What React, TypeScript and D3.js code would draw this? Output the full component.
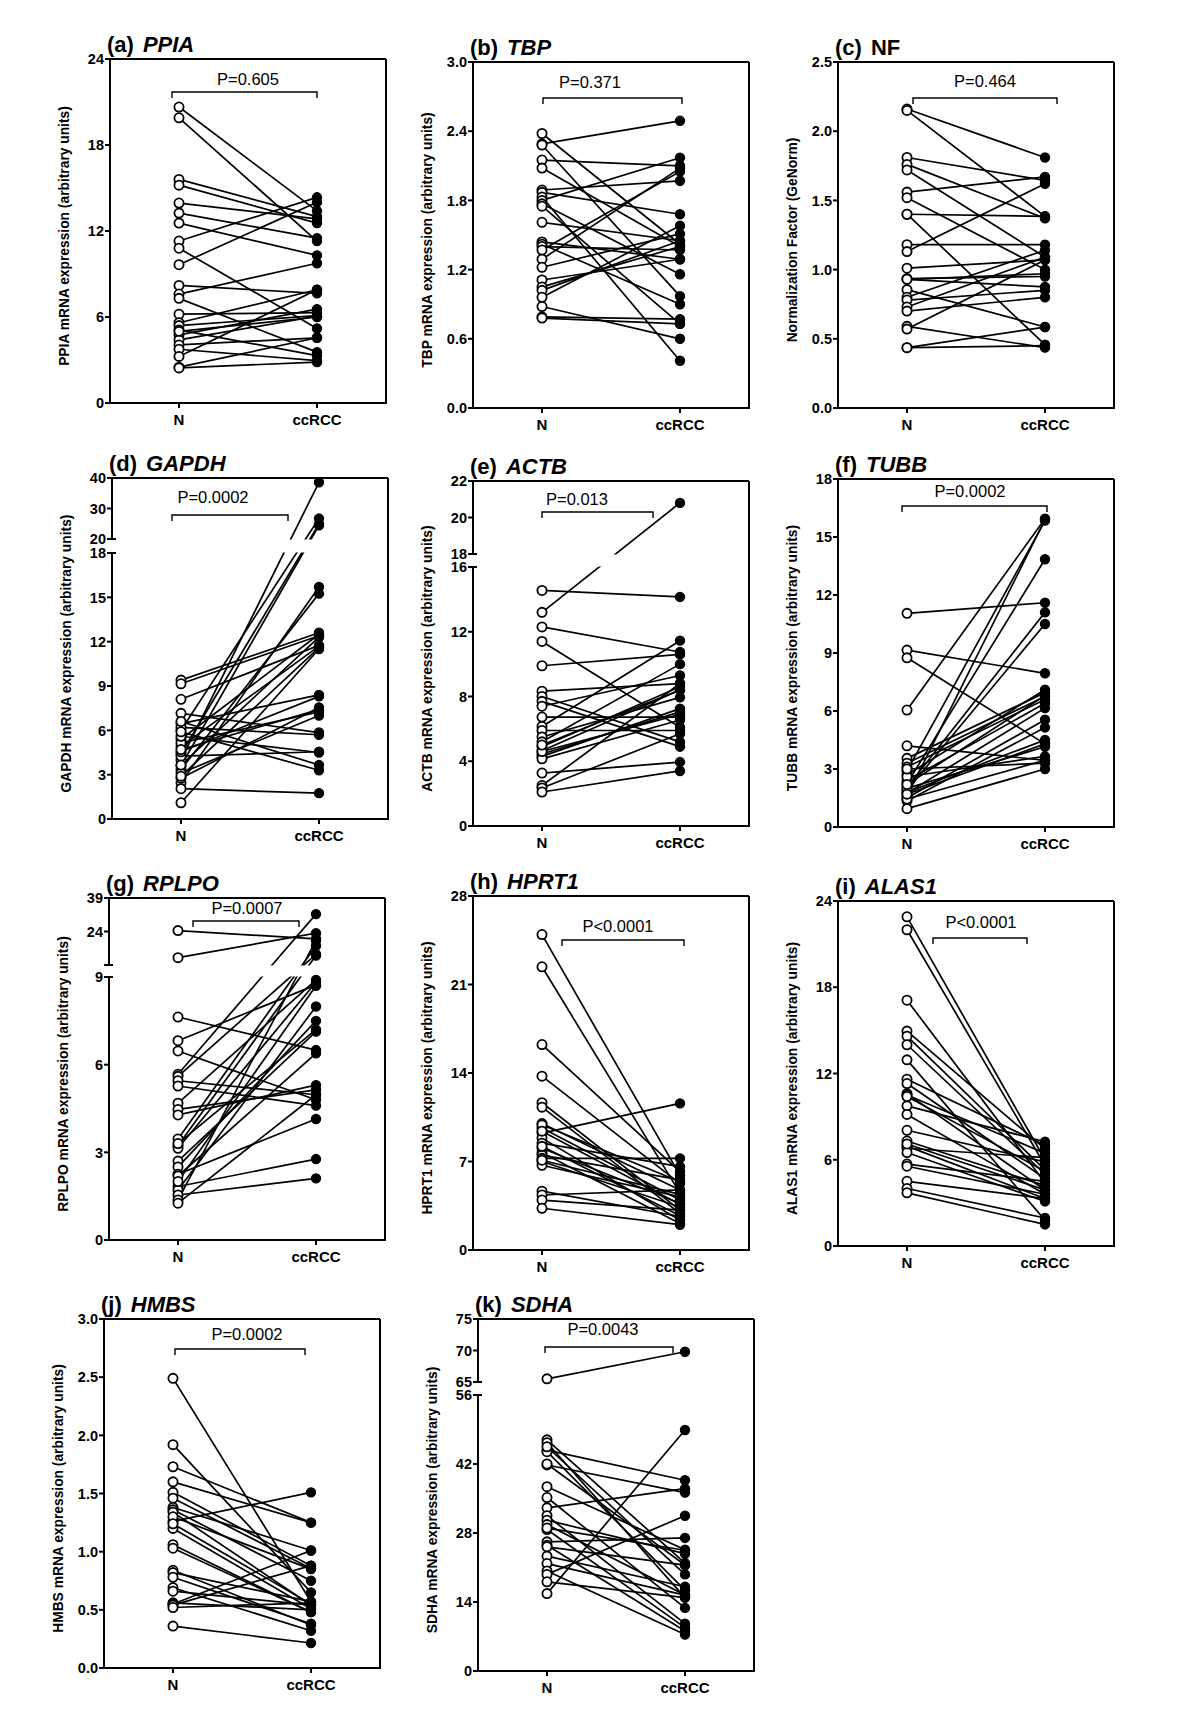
import React from 'react';
import * as d3 from 'd3';

const groups = ['N', 'ccRCC'];

// (a) PPIA
const ppiaN = [20.65, 19.9, 15.6, 15.2, 13.95, 13.25, 12.55, 11.3, 10.8, 9.65, 8.2, 7.6, 7.3, 6.2, 5.6, 5.4, 5.1, 4.75, 4.4, 4.05, 3.75, 3.25, 2.5, 2.45, 5.0];
const ppiaT = [13.4, 11.3, 13.0, 12.55, 12.85, 11.5, 10.3, 14.35, 5.2, 14.0, 7.65, 9.75, 3.55, 6.3, 7.9, 6.1, 3.3, 6.55, 6.05, 4.55, 2.95, 7.9, 4.55, 2.85, 6.0];
const ppiaTicks = [0, 6, 12, 18, 24];

// (b) TBP
const tbpN = [2.38, 2.29, 2.28, 2.15, 2.08, 1.89, 1.87, 1.83, 1.8, 1.77, 1.75, 1.61, 1.44, 1.42, 1.4, 1.37, 1.29, 1.22, 1.11, 1.05, 1.02, 0.96, 0.88, 0.79, 0.78];
const tbpT = [1.42, 2.49, 0.97, 2.1, 1.4, 1.97, 1.68, 0.41, 2.17, 1.16, 0.73, 1.45, 1.29, 0.9, 1.37, 2.05, 2.08, 1.51, 1.29, 1.4, 1.45, 1.58, 0.6, 0.77, 0.73];
const tbpTicks = [0, 0.6, 1.2, 1.8, 2.4, 3.0];

// (c) NF
const nfN = [2.16, 2.15, 1.81, 1.76, 1.72, 1.56, 1.52, 1.4, 1.4, 1.18, 1.13, 1.01, 0.935, 0.93, 0.855, 0.8, 0.78, 0.73, 0.7, 0.59, 0.57, 0.436, 0.436, 0.93];
const nfT = [1.81, 1.385, 1.645, 1.37, 1.09, 1.67, 1.0, 1.385, 0.458, 1.18, 1.62, 1.07, 0.95, 0.875, 0.585, 1.14, 0.85, 1.09, 0.8, 0.436, 1.07, 0.585, 0.45, 0.97];
const nfTicks = [0, 0.5, 1.0, 1.5, 2.0, 2.5];

// (d) GAPDH
const gapdhN = [4.0, 6.0, 4.4, 3.6, 2.45, 3.35, 9.4, 9.15, 8.1, 1.1, 5.4, 4.9, 6.45, 2.75, 5.15, 3.1, 7.15, 6.2, 4.25, 5.6, 6.6, 5.9, 2.05, 4.55, 3.65, 2.9, 4.7];
const gapdhT = [38.6, 26.7, 24.9, 24.5, 15.7, 15.25, 12.6, 12.4, 11.75, 11.5, 12.5, 11.7, 8.4, 7.55, 7.25, 7.0, 5.85, 5.7, 4.55, 4.5, 3.65, 3.3, 1.75, 8.3, 12.3, 11.6, 7.4];
const gapdhLowTicks = [0, 3, 6, 9, 12, 15, 18];
const gapdhUpTicks = [20, 30, 40];

// (e) ACTB
const actbN = [14.55, 13.2, 12.3, 11.4, 9.9, 8.33, 8.0, 7.7, 7.4, 6.73, 6.15, 5.9, 5.5, 5.2, 4.9, 4.65, 4.45, 4.3, 4.15, 3.27, 2.5, 2.35, 2.1, 4.6, 5.0];
const actbT = [14.15, 20.8, 10.75, 6.1, 10.6, 8.8, 5.2, 4.9, 9.3, 6.73, 11.45, 5.9, 7.95, 10.0, 8.6, 8.4, 7.05, 7.25, 6.55, 3.95, 8.8, 5.7, 3.4, 6.9, 8.4];
const actbLowTicks = [0, 4, 8, 12, 16];
const actbUpTicks = [18, 20, 22];

// (f) TUBB
const tubbN = [11.05, 9.15, 8.75, 6.05, 4.2, 3.55, 3.3, 3.1, 2.9, 2.7, 2.4, 2.25, 2.05, 1.9, 1.75, 1.5, 1.35, 0.95, 1.6, 1.8, 2.0, 2.6, 3.0, 1.45, 2.2, 1.7];
const tubbT = [11.6, 7.95, 4.3, 15.95, 3.45, 6.95, 6.75, 6.6, 15.85, 7.1, 6.4, 13.85, 11.1, 10.5, 6.15, 5.55, 5.15, 3.0, 15.9, 4.5, 4.15, 3.65, 3.3, 3.45, 6.8, 4.3];
const tubbTicks = [0, 3, 6, 9, 12, 15, 18];

// (g) RPLPO
const rplpoN = [24.4, 12.3, 7.63, 6.82, 6.47, 5.67, 5.6, 5.45, 5.27, 4.68, 4.47, 4.28, 3.46, 3.23, 3.14, 2.7, 2.5, 2.25, 2.19, 1.83, 1.71, 1.54, 1.37, 1.26, 2.0, 3.3];
const rplpoT = [20.7, 23.25, 6.5, 8.73, 4.8, 31.8, 13.8, 4.97, 4.6, 8.9, 5.14, 5.3, 17.6, 13.2, 8.82, 7.13, 7.5, 4.14, 6.39, 2.77, 7.99, 2.11, 20.0, 4.97, 8.7, 7.2];
const rplpoLowTicks = [0, 3, 6, 9];
const rplpoUpTicks = [9, 24, 39];
const rplpoUpLabels = ['', '24', '39'];

// (h) HPRT1
const hprtN = [24.95, 22.4, 16.25, 13.75, 11.65, 11.3, 10.0, 9.65, 9.25, 8.85, 8.45, 8.05, 7.7, 7.5, 7.25, 7.0, 6.7, 4.65, 4.35, 3.95, 3.3, 9.9, 8.2, 7.1, 9.4];
const hprtT = [5.9, 4.5, 6.2, 5.25, 3.15, 2.9, 4.75, 3.95, 11.6, 2.35, 6.6, 3.7, 2.1, 5.55, 7.25, 3.4, 4.2, 2.65, 4.75, 3.15, 2.0, 5.4, 2.7, 4.4, 3.6];
const hprtTicks = [0, 7, 14, 21, 28];

// (i) ALAS1
const alasN = [22.9, 22.0, 17.1, 14.95, 14.6, 14.0, 12.95, 11.6, 11.3, 10.6, 10.5, 9.75, 9.15, 8.05, 7.3, 6.95, 6.8, 6.5, 5.7, 5.55, 4.5, 4.0, 3.7, 10.4, 7.1];
const alasT = [6.0, 5.6, 4.4, 6.75, 5.3, 5.0, 1.8, 7.0, 4.7, 3.9, 6.45, 7.25, 3.6, 5.85, 4.2, 3.3, 6.15, 3.1, 4.5, 3.6, 3.3, 1.95, 1.5, 5.2, 3.9];
const alasTicks = [0, 6, 12, 18, 24];

// (j) HMBS
const hmbsN = [2.49, 1.92, 1.73, 1.6, 1.51, 1.46, 1.38, 1.36, 1.34, 1.26, 1.2, 1.06, 1.03, 0.84, 0.82, 0.78, 0.69, 0.66, 0.56, 0.55, 0.54, 0.52, 0.36, 1.3, 1.24];
const hmbsT = [0.57, 0.65, 1.25, 1.25, 0.88, 0.855, 1.01, 0.75, 0.54, 1.51, 0.51, 0.48, 0.48, 0.37, 0.57, 0.38, 0.32, 0.54, 0.5, 1.01, 0.88, 0.56, 0.215, 0.85, 0.55];
const hmbsTicks = [0, 0.5, 1.0, 1.5, 2.0, 2.5, 3.0];

// (k) SDHA
const sdhaN = [65.5, 46.9, 46.3, 44.8, 44.5, 41.8, 37.4, 35.2, 33.1, 31.5, 30.6, 29.7, 28.7, 26.2, 25.5, 25.2, 23.3, 21.8, 20.3, 19.6, 18.1, 15.7, 45.5, 42.0, 29.0];
const sdhaT = [69.8, 21.9, 14.9, 38.7, 16.4, 36.2, 24.6, 12.8, 37.0, 9.6, 23.8, 15.4, 8.8, 27.0, 8.1, 21.5, 17.1, 15.4, 7.4, 31.5, 14.9, 48.9, 19.6, 21.5, 24.5];
const sdhaLowTicks = [0, 14, 28, 42, 56];
const sdhaUpTicks = [65, 70, 75];

const FONT = "'Liberation Sans', Arial, Helvetica, sans-serif";
const W = 276;

type PanelDef = {
  letter: string; gene: string; italic: boolean; yLabel: string; pText: string;
  normal: number[]; tumor: number[];
  lower: [number, number]; lowTicks: number[];
  upper?: [number, number]; upTicks?: number[]; upLabels?: string[];
  fmt: (v: number) => string;
  x0: number; top: number; bottom: number; upperH?: number; gap?: number;
  br: { x1: number; x2: number; y: number; tx: number; ty: number };
};

const f1 = d3.format('.1f');
const fi = d3.format('d');

const panels: PanelDef[] = [
  { letter: '(a)', gene: 'PPIA', italic: true, yLabel: 'PPIA mRNA expression (arbitrary units)', pText: 'P=0.605',
    normal: ppiaN, tumor: ppiaT, lower: [0, 24], lowTicks: ppiaTicks, fmt: fi,
    x0: 110, top: 59, bottom: 403, br: { x1: 62, x2: 207, y: 33, tx: 138, ty: 26 } },
  { letter: '(b)', gene: 'TBP', italic: true, yLabel: 'TBP mRNA expression (arbitrary units)', pText: 'P=0.371',
    normal: tbpN, tumor: tbpT, lower: [0, 3], lowTicks: tbpTicks, fmt: f1,
    x0: 473, top: 62, bottom: 408, br: { x1: 70, x2: 209, y: 36, tx: 117, ty: 26 } },
  { letter: '(c)', gene: 'NF', italic: false, yLabel: 'Normalization Factor (GeNorm)', pText: 'P=0.464',
    normal: nfN, tumor: nfT, lower: [0, 2.5], lowTicks: nfTicks, fmt: f1,
    x0: 838, top: 62, bottom: 408, br: { x1: 75, x2: 219, y: 36, tx: 147, ty: 25 } },
  { letter: '(d)', gene: 'GAPDH', italic: true, yLabel: 'GAPDH mRNA expression (arbitrary units)', pText: 'P=0.0002',
    normal: gapdhN, tumor: gapdhT, lower: [0, 18], lowTicks: gapdhLowTicks, upper: [20, 40], upTicks: gapdhUpTicks, fmt: fi,
    x0: 112, top: 478, bottom: 819, upperH: 61, gap: 14, br: { x1: 60, x2: 176, y: 37, tx: 101, ty: 25 } },
  { letter: '(e)', gene: 'ACTB', italic: true, yLabel: 'ACTB mRNA expression (arbitrary units)', pText: 'P=0.013',
    normal: actbN, tumor: actbT, lower: [0, 16], lowTicks: actbLowTicks, upper: [18, 22], upTicks: actbUpTicks, fmt: fi,
    x0: 473, top: 481, bottom: 826, upperH: 73, gap: 13, br: { x1: 69, x2: 180, y: 31, tx: 104, ty: 24 } },
  { letter: '(f)', gene: 'TUBB', italic: true, yLabel: 'TUBB mRNA expression (arbitrary units)', pText: 'P=0.0002',
    normal: tubbN, tumor: tubbT, lower: [0, 18], lowTicks: tubbTicks, fmt: fi,
    x0: 838, top: 479, bottom: 827, br: { x1: 64, x2: 209, y: 27, tx: 132, ty: 18 } },
  { letter: '(g)', gene: 'RPLPO', italic: true, yLabel: 'RPLPO mRNA expression (arbitrary units)', pText: 'P=0.0007',
    normal: rplpoN, tumor: rplpoT, lower: [0, 9], lowTicks: rplpoLowTicks, upper: [9, 39], upTicks: rplpoUpTicks, upLabels: rplpoUpLabels, fmt: fi,
    x0: 109, top: 898, bottom: 1240, upperH: 67, gap: 12, br: { x1: 84, x2: 190, y: 23, tx: 138, ty: 16 } },
  { letter: '(h)', gene: 'HPRT1', italic: true, yLabel: 'HPRT1 mRNA expression (arbitrary units)', pText: 'P<0.0001',
    normal: hprtN, tumor: hprtT, lower: [0, 28], lowTicks: hprtTicks, fmt: fi,
    x0: 473, top: 896, bottom: 1250, br: { x1: 89, x2: 211, y: 44, tx: 145, ty: 36 } },
  { letter: '(i)', gene: 'ALAS1', italic: true, yLabel: 'ALAS1 mRNA expression (arbitrary units)', pText: 'P<0.0001',
    normal: alasN, tumor: alasT, lower: [0, 24], lowTicks: alasTicks, fmt: fi,
    x0: 838, top: 901, bottom: 1246, br: { x1: 95, x2: 189, y: 37, tx: 143, ty: 27 } },
  { letter: '(j)', gene: 'HMBS', italic: true, yLabel: 'HMBS mRNA expression (arbitrary units)', pText: 'P=0.0002',
    normal: hmbsN, tumor: hmbsT, lower: [0, 3], lowTicks: hmbsTicks, fmt: f1,
    x0: 104, top: 1319, bottom: 1668, br: { x1: 71, x2: 201, y: 30, tx: 143, ty: 21 } },
  { letter: '(k)', gene: 'SDHA', italic: true, yLabel: 'SDHA mRNA expression (arbitrary units)', pText: 'P=0.0043',
    normal: sdhaN, tumor: sdhaT, lower: [0, 56], lowTicks: sdhaLowTicks, upper: [65, 75], upTicks: sdhaUpTicks, fmt: fi,
    x0: 478, top: 1319, bottom: 1671, upperH: 63, gap: 13, br: { x1: 67, x2: 195, y: 28, tx: 125, ty: 16 } },
];

function Panel({ p }: { p: PanelDef }) {
  const x = d3.scalePoint<string>().domain(groups).range([p.x0, p.x0 + W]).padding(0.5);
  const broken = !!p.upper;
  const upH = p.upperH || 0;
  const gap = p.gap || 0;
  const lowTop = broken ? p.top + upH + gap : p.top;
  const upBottom = p.top + upH;
  const yLow = d3.scaleLinear().domain(p.lower).range([p.bottom, lowTop]);
  const yUp = broken ? d3.scaleLinear().domain(p.upper as [number, number]).range([upBottom, p.top]) : null;
  const y = (v: number) => (broken && v > p.lower[1] && yUp ? yUp(v) : yLow(v));
  const xN = x('N') as number;
  const xC = x('ccRCC') as number;
  const r = 4.6;
  const midY = (p.top + p.bottom) / 2 + 5;
  const lw = 2;
  const tickFs = 14.5;

  return (
    <g>
      {/* title */}
      <text x={p.x0 - 3} y={p.top - 7} fontFamily={FONT} fontSize={22} fontWeight="bold" fill="#000">
        <tspan>{p.letter}</tspan>
        <tspan dx={9} fontStyle={p.italic ? 'italic' : 'normal'}>{p.gene}</tspan>
      </text>
      {/* y label */}
      <text transform={`translate(${p.x0 - 46},${midY}) rotate(-90)`} textAnchor="middle" dy="0.35em"
        fontFamily={FONT} fontSize={13.8} fontWeight="bold" fill="#000">{p.yLabel}</text>

      {/* data lines */}
      {p.normal.map((v, i) => (
        <line key={'l' + i} x1={xN} y1={y(v)} x2={xC} y2={y(p.tumor[i])} stroke="#000" strokeWidth={1.7} />
      ))}
      {/* axis-break gap mask */}
      {broken && (
        <rect x={p.x0 + 1} y={upBottom + 0.5} width={W - 2} height={gap - 1} fill="#fff" />
      )}
      {/* points */}
      {p.normal.map((v, i) => (
        <circle key={'n' + i} cx={xN} cy={y(v)} r={r} fill="#fff" stroke="#000" strokeWidth={1.8} />
      ))}
      {p.tumor.map((v, i) => (
        <circle key={'t' + i} cx={xC} cy={y(v)} r={r} fill="#000" stroke="#000" strokeWidth={1.2} />
      ))}

      {/* frame */}
      <line x1={p.x0} y1={p.top} x2={p.x0 + W} y2={p.top} stroke="#000" strokeWidth={lw} />
      <line x1={p.x0 + W} y1={p.top} x2={p.x0 + W} y2={p.bottom} stroke="#000" strokeWidth={lw} />
      <line x1={p.x0 - 5} y1={p.bottom} x2={p.x0 + W + 1} y2={p.bottom} stroke="#000" strokeWidth={lw} />
      {/* left axis segments */}
      <line x1={p.x0} y1={p.bottom} x2={p.x0} y2={lowTop} stroke="#000" strokeWidth={lw} />
      {broken && <line x1={p.x0} y1={upBottom} x2={p.x0} y2={p.top} stroke="#000" strokeWidth={lw} />}

      {/* y ticks lower */}
      {p.lowTicks.map((t) => (
        <g key={'lt' + t}>
          <line x1={p.x0 - 5} x2={p.x0 + (broken && t === p.lower[1] ? 4 : 0)} y1={yLow(t)} y2={yLow(t)} stroke="#000" strokeWidth={lw} />
          <text x={p.x0 - 6} y={yLow(t)} dy="0.36em" textAnchor="end" fontFamily={FONT} fontSize={tickFs} fontWeight="bold">{p.fmt(t)}</text>
        </g>
      ))}
      {broken && yUp && (p.upTicks || []).map((t, i) => (
        <g key={'ut' + t}>
          <line x1={p.x0 - 5} x2={p.x0 + (t === (p.upper as number[])[0] ? 4 : 0)} y1={yUp(t)} y2={yUp(t)} stroke="#000" strokeWidth={lw} />
          <text x={p.x0 - 6} y={yUp(t)} dy="0.36em" textAnchor="end" fontFamily={FONT} fontSize={tickFs} fontWeight="bold">
            {p.upLabels ? p.upLabels[i] : p.fmt(t)}
          </text>
        </g>
      ))}

      {/* x ticks and labels */}
      {groups.map((g) => (
        <g key={g}>
          <line x1={x(g) as number} x2={x(g) as number} y1={p.bottom} y2={p.bottom + 5} stroke="#000" strokeWidth={lw} />
          <text x={x(g) as number} y={p.bottom + 22} textAnchor="middle" fontFamily={FONT} fontSize={15} fontWeight="bold">{g}</text>
        </g>
      ))}

      {/* significance bracket */}
      <path d={`M${p.x0 + p.br.x1},${p.top + p.br.y + 6}V${p.top + p.br.y}H${p.x0 + p.br.x2}V${p.top + p.br.y + 6}`}
        fill="none" stroke="#000" strokeWidth={1.4} />
      <text x={p.x0 + p.br.tx} y={p.top + p.br.ty} textAnchor="middle" fontFamily={FONT} fontSize={16.5} fill="#000">{p.pText}</text>
    </g>
  );
}

export default function App() {
  return (
    <svg width={1200} height={1736} viewBox="0 0 1200 1736"
      style={{ position: 'absolute', left: 0, top: 0, background: '#fff' }}>
      <rect x={0} y={0} width={1200} height={1736} fill="#fff" />
      {panels.map((p) => <Panel key={p.letter} p={p} />)}
    </svg>
  );
}
